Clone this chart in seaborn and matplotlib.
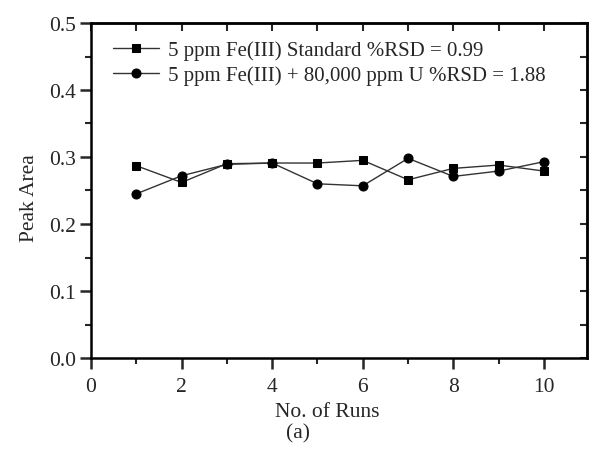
import matplotlib
matplotlib.use("Agg")
import matplotlib.pyplot as plt
import seaborn as sns
import pandas as pd
from matplotlib.ticker import MultipleLocator

runs = [1, 2, 3, 4, 5, 6, 7, 8, 9, 10]
standard = [0.287, 0.262, 0.290, 0.291, 0.291, 0.295, 0.266, 0.283, 0.288, 0.279]
with_u = [0.245, 0.272, 0.289, 0.291, 0.260, 0.257, 0.298, 0.271, 0.279, 0.293]
label_std = "5 ppm Fe(III) Standard %RSD = 0.99"
label_u = "5 ppm Fe(III) + 80,000 ppm U %RSD = 1.88"

sns.set_style("ticks")
plt.rcParams["font.family"] = ["Liberation Serif", "DejaVu Serif"]

FS = 15.5

fig = plt.figure(figsize=(5.91, 4.60), dpi=100)
ax = fig.add_axes([91 / 591, 1 - 359 / 460, (587 - 91) / 591, (359 - 24) / 460])

df_std = pd.DataFrame({"run": runs, "area": standard})
df_u = pd.DataFrame({"run": runs, "area": with_u})

sns.lineplot(data=df_std, x="run", y="area", ax=ax, color="#333333", linewidth=1.0,
             marker="s", markersize=6.0, markerfacecolor="black", markeredgecolor="black",
             label=label_std)
sns.lineplot(data=df_u, x="run", y="area", ax=ax, color="#333333", linewidth=1.0,
             marker="o", markersize=6.5, markerfacecolor="black", markeredgecolor="black",
             label=label_u)

ax.set_xlim(0, 10.95)
ax.set_ylim(0, 0.5)
ax.xaxis.set_major_locator(MultipleLocator(2))
ax.xaxis.set_minor_locator(MultipleLocator(1))
ax.yaxis.set_major_locator(MultipleLocator(0.1))
ax.yaxis.set_minor_locator(MultipleLocator(0.05))
ax.yaxis.set_major_formatter(matplotlib.ticker.FormatStrFormatter("%.1f"))

for s in ax.spines.values():
    s.set_visible(True)
    s.set_linewidth(1.8)
    s.set_color("black")

ax.tick_params(which="major", direction="out", length=8, width=1.8, labelsize=FS)
ax.tick_params(axis="x", which="major", pad=6)
ax.tick_params(axis="y", which="major", pad=3)
ax.tick_params(which="minor", direction="out", length=4, width=1.5)

secx = ax.secondary_xaxis("top")
secx.xaxis.set_major_locator(MultipleLocator(1))
secx.tick_params(direction="in", length=6, width=1.5, labeltop=False)
secx.spines["top"].set_linewidth(1.8)
secy = ax.secondary_yaxis("right")
secy.yaxis.set_major_locator(MultipleLocator(0.05))
secy.tick_params(direction="in", length=5, width=1.5, labelright=False)
secy.spines["right"].set_linewidth(1.8)

ax.set_xlabel("No. of Runs", fontsize=FS)
ax.set_ylabel("Peak Area", fontsize=FS)
ax.xaxis.set_label_coords(0.476, -0.13)
ax.yaxis.set_label_coords(-0.105, 0.48)

leg = ax.legend(loc="upper left", bbox_to_anchor=(0.02, 0.985), frameon=False, fontsize=15,
                handlelength=2.2, handletextpad=0.4, labelspacing=0.25, borderaxespad=0.2)

fig.text(298 / 591, 1 - 434 / 460, "(a)", ha="center", va="center", fontsize=FS)

fig.savefig("out.png", dpi=100, facecolor="white")
